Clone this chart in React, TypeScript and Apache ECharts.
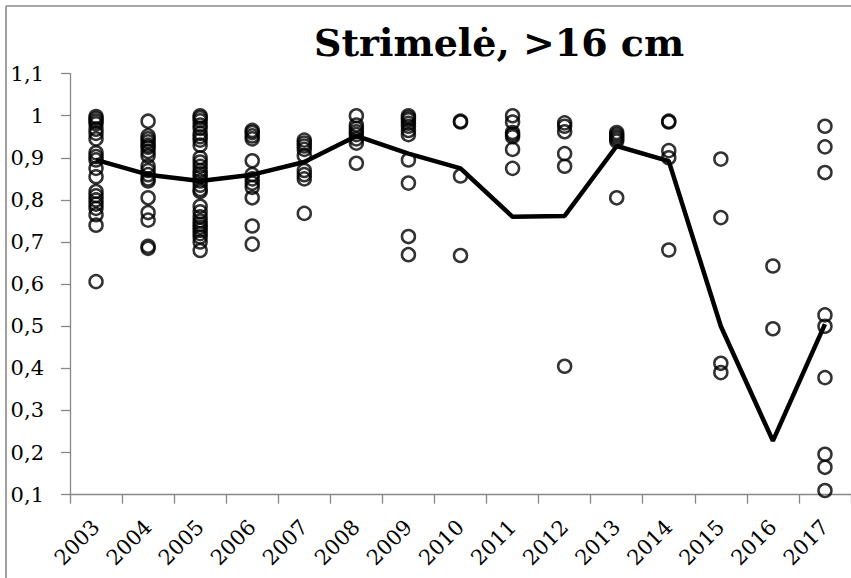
import React, { useEffect, useRef } from "react";
import * as echarts from "echarts";

const years = ["2003","2004","2005","2006","2007","2008","2009","2010","2011","2012","2013","2014","2015","2016","2017"];
const yTickMin = 0.1;
const yTickMax = 1.1;
const yTickStep = 0.1;

const p2003 = [0.998, 0.993, 0.987, 0.981, 0.968, 0.958, 0.945, 0.912, 0.903, 0.895, 0.875, 0.855, 0.82, 0.81, 0.8, 0.79, 0.78, 0.765, 0.74, 0.606];
const p2004 = [0.987, 0.952, 0.945, 0.938, 0.93, 0.925, 0.915, 0.905, 0.88, 0.87, 0.86, 0.85, 0.845, 0.805, 0.77, 0.752, 0.69, 0.685];
const p2005 = [1.0, 0.995, 0.988, 0.978, 0.97, 0.958, 0.95, 0.942, 0.93, 0.9, 0.89, 0.88, 0.87, 0.862, 0.855, 0.845, 0.835, 0.825, 0.82, 0.785, 0.772, 0.76, 0.75, 0.742, 0.735, 0.728, 0.72, 0.712, 0.7, 0.68];
const p2006 = [0.965, 0.96, 0.952, 0.945, 0.893, 0.86, 0.85, 0.84, 0.83, 0.805, 0.738, 0.695];
const p2007 = [0.942, 0.935, 0.928, 0.92, 0.905, 0.87, 0.86, 0.85, 0.768];
const p2008 = [1.0, 0.978, 0.97, 0.962, 0.955, 0.945, 0.935, 0.887];
const p2009 = [1.0, 0.995, 0.99, 0.982, 0.975, 0.965, 0.955, 0.895, 0.84, 0.713, 0.67];
const p2010 = [0.987, 0.985, 0.857, 0.668];
const p2011 = [1.0, 0.985, 0.96, 0.955, 0.95, 0.92, 0.875];
const p2012 = [0.983, 0.975, 0.962, 0.91, 0.88, 0.405];
const p2013 = [0.96, 0.955, 0.95, 0.945, 0.94, 0.805];
const p2014 = [0.987, 0.985, 0.917, 0.9, 0.681];
const p2015 = [0.897, 0.758, 0.412, 0.39];
const p2016 = [0.643, 0.494];
const p2017 = [0.975, 0.926, 0.865, 0.527, 0.5, 0.378, 0.196, 0.165, 0.11];

const meanLine = [0.895, 0.86, 0.845, 0.86, 0.89, 0.952, 0.91, 0.875, 0.76, 0.762, 0.928, 0.892, 0.5, 0.228, 0.505];

const titleText = "Strimelė, >16 cm";

export default function App() {
  const ref = useRef<HTMLDivElement>(null);
  useEffect(() => {
    if (!ref.current) return;
    const chart = echarts.init(ref.current, null, { renderer: "svg" });
    const groups = [p2003, p2004, p2005, p2006, p2007, p2008, p2009, p2010, p2011, p2012, p2013, p2014, p2015, p2016, p2017];
    const scatterData: number[][] = [];
    groups.forEach((g, i) => g.forEach((v) => scatterData.push([i, v])));
    const axisColor = "#878787";
    const font = "'DejaVu Serif', 'Liberation Serif', serif";
    chart.setOption({
      animation: false,
      backgroundColor: "#ffffff",
      title: {
        text: titleText,
        left: 309,
        top: 18,
        textStyle: { fontFamily: font, fontWeight: "bold", fontSize: 38, color: "#000" },
      },
      grid: { left: 70, top: 73.6, width: 783, bottom: 83.3, containLabel: false },
      xAxis: {
        type: "category",
        data: years,
        boundaryGap: true,
        axisLine: { lineStyle: { color: axisColor, width: 1.3 } },
        axisTick: { show: true, length: 9, alignWithLabel: false, lineStyle: { color: axisColor, width: 1.3 } },
        axisLabel: { rotate: 45, margin: 29, fontFamily: font, fontSize: 21, color: "#000", interval: 0 },
        splitLine: { show: false },
      },
      yAxis: {
        type: "value",
        min: yTickMin,
        max: yTickMax,
        interval: yTickStep,
        axisLine: { show: true, lineStyle: { color: axisColor, width: 1.3 } },
        axisTick: { show: true, length: 9, lineStyle: { color: axisColor, width: 1.3 } },
        axisLabel: {
          margin: 26,
          fontFamily: font,
          fontSize: 21,
          color: "#000",
          formatter: (v: number) => String(Math.round(v * 10) / 10).replace(".", ","),
        },
        splitLine: { show: false },
      },
      graphic: [
        { type: "line", shape: { x1: 6, y1: 6, x2: 6, y2: 578 }, style: { stroke: "#8a8a8a", lineWidth: 1.6 } },
        { type: "line", shape: { x1: 6, y1: 6, x2: 851, y2: 6 }, style: { stroke: "#8a8a8a", lineWidth: 1.6 } },
      ],
      series: [
        {
          type: "scatter",
          data: scatterData,
          symbol: "circle",
          symbolSize: 13,
          itemStyle: { color: "rgba(0,0,0,0)", borderColor: "#000", borderWidth: 2.5 },
          z: 2,
        },
        {
          type: "line",
          data: meanLine,
          symbol: "none",
          lineStyle: { color: "#000", width: 4.5 },
          z: 3,
        },
      ],
    });
    return () => chart.dispose();
  }, []);
  return <div ref={ref} style={{ position: "fixed", left: 0, top: 0, width: 851, height: 578 }} />;
}
